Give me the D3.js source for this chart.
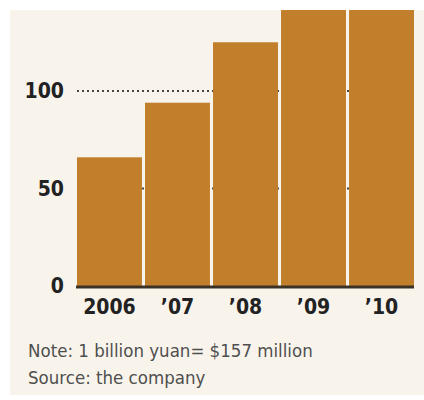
<!DOCTYPE html>
<html>
<head>
<meta charset="utf-8">
<script src="https://cdn.jsdelivr.net/npm/d3@7"></script>
<style>
  body { margin: 0; background: #fff; }
  text { font-family: "DejaVu Sans", sans-serif; font-stretch: condensed; }
</style>
</head>
<body>
<div id="chart"></div>
<script>
const years = ["2006", "\u201907", "\u201908", "\u201909", "\u201910"];
const values = [66, 94, 125, 160, 185]; // billion yuan; last two run off the top
const yTicks = [0, 50, 100];
const notes = ["Note: 1 billion yuan= $157 million", "Source: the company"];

const width = 424, height = 400;

const svg = d3.select("#chart")
    .append("svg")
    .attr("width", width)
    .attr("height", height);

svg.append("rect")
    .attr("x", 10).attr("y", 10)
    .attr("width", width - 10).attr("height", 385)
    .attr("fill", "#f8f4ec");

svg.append("clipPath").attr("id", "plotClip")
    .append("rect")
    .attr("x", 0).attr("y", 10)
    .attr("width", width).attr("height", 390);

const x = d3.scaleBand()
    .domain(years)
    .range([77, 414])
    .paddingInner(0.045)
    .paddingOuter(0);

const y = d3.scaleLinear()
    .domain([0, 100])
    .range([286, 91]);

// dotted gridlines behind the bars
svg.append("g")
    .selectAll("line")
    .data(yTicks.filter(d => d > 0))
    .enter().append("line")
    .attr("x1", 77).attr("x2", 414)
    .attr("y1", d => y(d)).attr("y2", d => y(d))
    .attr("stroke", "#4a4540")
    .attr("stroke-width", 2)
    .attr("stroke-dasharray", "2,3");

svg.append("g")
    .attr("clip-path", "url(#plotClip)")
    .selectAll("rect")
    .data(values)
    .enter().append("rect")
    .attr("x", (d, i) => x(years[i]))
    .attr("width", x.bandwidth())
    .attr("y", d => y(d))
    .attr("height", d => y(0) - y(d))
    .attr("fill", "#c27f2b");

// zero line
svg.append("line")
    .attr("x1", 76).attr("x2", 414)
    .attr("y1", y(0) + 1).attr("y2", y(0) + 1)
    .attr("stroke", "#3b3227")
    .attr("stroke-width", 3);

svg.append("g")
    .selectAll("text")
    .data(yTicks)
    .enter().append("text")
    .attr("x", 64)
    .attr("y", d => y(d) + 7)
    .attr("text-anchor", "end")
    .attr("font-size", 21)
    .attr("font-weight", "bold")
    .attr("fill", "#222")
    .text(d => d);

svg.append("g")
    .selectAll("text")
    .data(years)
    .enter().append("text")
    .attr("x", d => x(d) + x.bandwidth() / 2)
    .attr("y", 314)
    .attr("text-anchor", "middle")
    .attr("font-size", 21)
    .attr("font-weight", "bold")
    .attr("fill", "#222")
    .text(d => d);

svg.append("g")
    .selectAll("text")
    .data(notes)
    .enter().append("text")
    .attr("x", 28)
    .attr("y", (d, i) => 357 + i * 27)
    .attr("font-size", 18.5)
    .attr("fill", "#4f4f4f")
    .text(d => d);
</script>
</body>
</html>
